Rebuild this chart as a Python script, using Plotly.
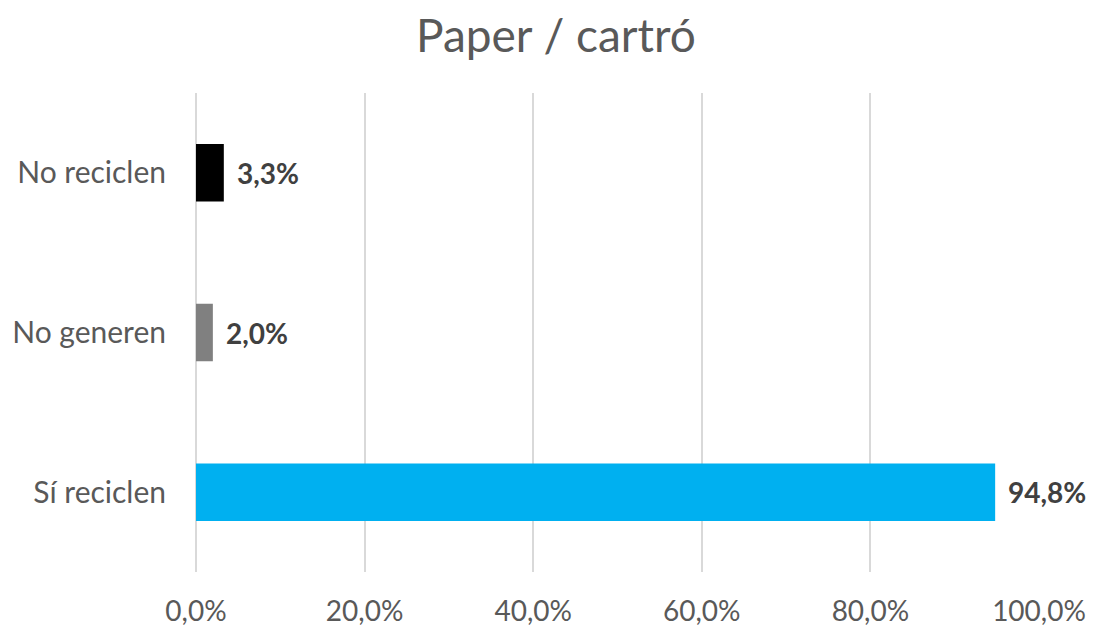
import plotly.graph_objects as go

categories = ["Sí reciclen", "No generen", "No reciclen"]
values = [0.948, 0.020, 0.033]
labels = ["94,8%", "2,0%", "3,3%"]
colors = ["#00B0F0", "#808080", "#000000"]
x_ticks = [0, 0.2, 0.4, 0.6, 0.8, 1.0]

FONT = "Lato, Open Sans, sans-serif"

fig = go.Figure()
fig.add_trace(go.Bar(
    y=categories, x=values, orientation="h",
    marker=dict(color=colors, line=dict(width=0)),
    hoverinfo="skip",
))
for c, v, t in zip(categories, values, labels):
    fig.add_annotation(x=v, y=c, text="<b>" + t + "</b>", showarrow=False,
                       xanchor="left", xshift=11,
                       font=dict(family=FONT, size=28, color="#404040"))

fig.update_layout(
    width=1086, height=620,
    paper_bgcolor="white", plot_bgcolor="white",
    separators=",.",
    margin=dict(l=188, r=55, t=85, b=56, autoexpand=False),
    title=dict(text="Paper / cartró", x=0.5046, xanchor="center", y=0.955, yanchor="middle",
               font=dict(family=FONT, size=46, color="#595959")),
    bargap=0.64,
    showlegend=False,
    xaxis=dict(range=[0, 1.0], tickvals=x_ticks, tickformat=".1%",
               showgrid=True, gridcolor="#D9D9D9", gridwidth=1.5,
               zeroline=True, zerolinecolor="#D9D9D9", zerolinewidth=1.5,
               showline=False, ticks="", automargin=False,
               ticklabelstandoff=20,
               tickfont=dict(family=FONT, size=28, color="#595959")),
    yaxis=dict(showgrid=False, zeroline=False, showline=False, ticks="",
               automargin=False, ticklabelstandoff=29,
               tickfont=dict(family=FONT, size=30, color="#595959")),
)
fig.write_html("out.html")
